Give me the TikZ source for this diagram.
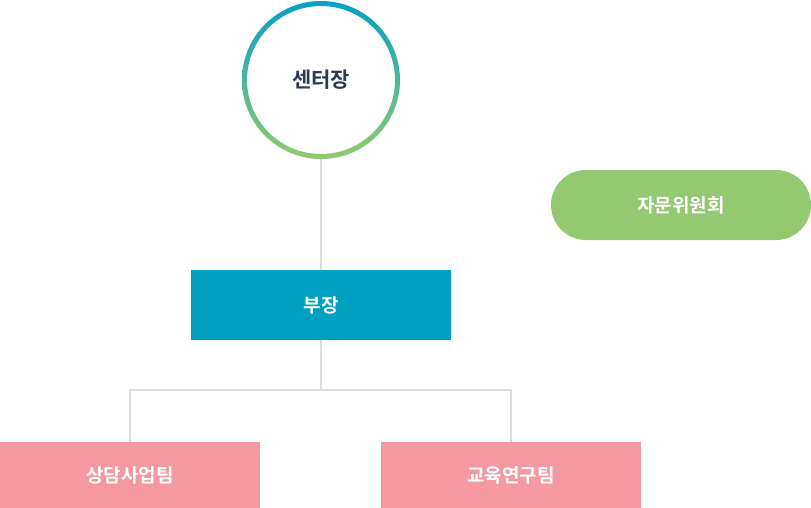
\documentclass[tikz,border=0pt]{standalone}
\usepackage{fontspec}
\newfontfamily\kr{Noto Sans CJK KR}[BoldFont={Noto Sans CJK KR Bold}]
\definecolor{ringtop}{HTML}{07A1C5}
\definecolor{ringbot}{HTML}{92CA6F}
\definecolor{navy}{HTML}{2E3A55}
\definecolor{blueb}{HTML}{00A0C2}
\definecolor{greenb}{HTML}{93C971}
\definecolor{pinkb}{HTML}{F499A2}
\definecolor{linec}{HTML}{DCDCDC}
\tikzset{
  x=1pt,y=-1pt,
  box/.style={rectangle,minimum width=260pt,inner sep=0pt,text=white,font=\kr\bfseries\fontsize{19}{22}\selectfont},
  conn/.style={draw=linec,line width=2pt}
}
\begin{document}
\begin{tikzpicture}
\useasboundingbox (0,0) rectangle (811,508);
\shade[top color=ringtop,bottom color=ringbot,even odd rule] (321,80) circle (79pt) (321,80) circle (74pt);
\node[circle,minimum size=148pt,inner sep=0pt,text=navy,font=\kr\bfseries\fontsize{21}{24}\selectfont] (ceo) at (321,80) {센터장};
\node[box,fill=greenb,rounded corners=35pt,minimum height=70pt] (adv) at (681,205) {자문위원회};
\node[box,fill=blueb,minimum height=70pt] (dep) at (321,305) {부장};
\node[box,fill=pinkb,minimum height=66pt] (t1) at (130,475) {상담사업팀};
\node[box,fill=pinkb,minimum height=66pt] (t2) at (511,475) {교육연구팀};
\coordinate (split) at (321,390);
\draw[conn] (321,159) -- (dep.north);
\draw[conn] (dep.south) -- (split);
\draw[conn] (t1.north) |- (split) -| (t2.north);
\end{tikzpicture}
\end{document}
